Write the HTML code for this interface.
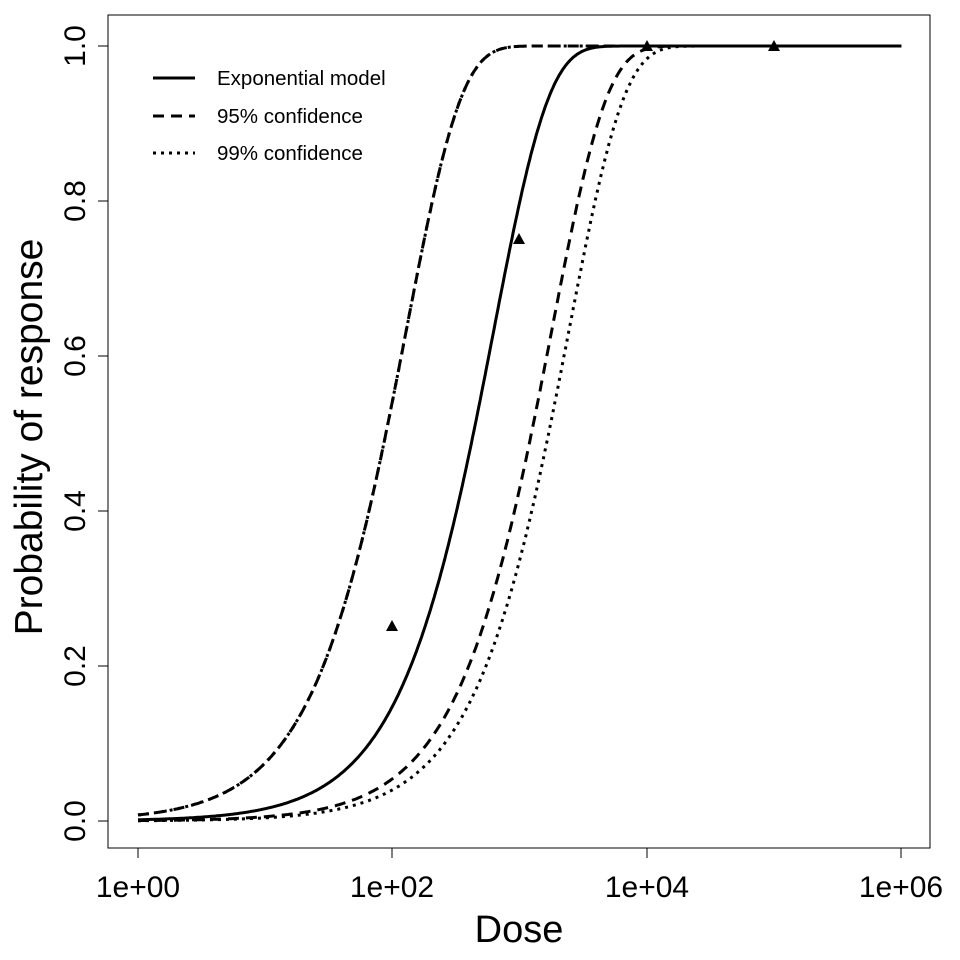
<!DOCTYPE html>
<html><head><meta charset="utf-8"><style>
html,body{margin:0;padding:0;background:#fff;}
svg{display:block;font-family:"Liberation Sans",Arial,sans-serif;}
</style></head><body>
<svg id="s" width="960" height="960" viewBox="0 0 960 960" xmlns="http://www.w3.org/2000/svg">
<rect x="108" y="15" width="822" height="833" fill="none" stroke="#000" stroke-width="1"/>
<g stroke="#000" stroke-width="1">
<line x1="138" y1="848" x2="901" y2="848"/>
<line x1="138" y1="848" x2="138" y2="858"/>
<line x1="392" y1="848" x2="392" y2="858"/>
<line x1="647" y1="848" x2="647" y2="858"/>
<line x1="901" y1="848" x2="901" y2="858"/>
<line x1="108" y1="46" x2="108" y2="821"/>
<line x1="98" y1="821" x2="108" y2="821"/>
<line x1="98" y1="666" x2="108" y2="666"/>
<line x1="98" y1="511" x2="108" y2="511"/>
<line x1="98" y1="356" x2="108" y2="356"/>
<line x1="98" y1="201" x2="108" y2="201"/>
<line x1="98" y1="46" x2="108" y2="46"/>
</g>
<g font-size="30" text-anchor="middle">
<text x="138" y="897">1e+00</text>
<text x="392" y="897">1e+02</text>
<text x="647" y="897">1e+04</text>
<text x="901" y="897">1e+06</text>
<text transform="translate(85,821) rotate(-90)">0.0</text>
<text transform="translate(85,666) rotate(-90)">0.2</text>
<text transform="translate(85,511) rotate(-90)">0.4</text>
<text transform="translate(85,356) rotate(-90)">0.6</text>
<text transform="translate(85,201) rotate(-90)">0.8</text>
<text transform="translate(85,46) rotate(-90)">1.0</text>
</g>
<text x="519" y="942" font-size="38" text-anchor="middle">Dose</text>
<text transform="translate(42,437) rotate(-90)" font-size="39" text-anchor="middle">Probability of response</text>
<g stroke="#000" stroke-width="3" fill="none">
<line x1="153" y1="78" x2="195" y2="78"/>
<line x1="153" y1="116" x2="195" y2="116" stroke-dasharray="11,7"/>
<line x1="153" y1="153" x2="195" y2="153" stroke-dasharray="3,5"/>
</g>
<g font-size="20.5">
<text x="217" y="85">Exponential model</text>
<text x="217" y="123">95% confidence</text>
<text x="217" y="160">99% confidence</text>
</g>
<g id="curves" stroke="#000" stroke-width="3" fill="none"></g>
<g fill="#000">
<polygon points="392,620 386,631 398,631"/>
<polygon points="519,233 513,244 525,244"/>
<polygon points="647,40 641,51 653,51"/>
<polygon points="774,40 768,51 780,51"/>
</g>
</svg>
<script>
(function(){
var g=document.getElementById('curves');
function X(d){return 138+Math.log10(d)*127.2;}
function Y(p){return 821-p*775;}
function path(k,dash){
 var s='';
 for(var i=0;i<=600;i++){var lx=i*6/600;var d=Math.pow(10,lx);var p=1-Math.exp(-k*d);
  s+=(i?'L':'M')+X(d).toFixed(1)+','+Y(p).toFixed(1);}
 var e=document.createElementNS('http://www.w3.org/2000/svg','path');
 e.setAttribute('d',s); if(dash)e.setAttribute('stroke-dasharray',dash);
 g.appendChild(e);
}
path(0.0016,null);
path(0.0078,'11,7');
path(0.00056,'11,7');
path(0.0078,'3,5');
path(0.00041,'3,5');
})();
</script>
</body></html>
